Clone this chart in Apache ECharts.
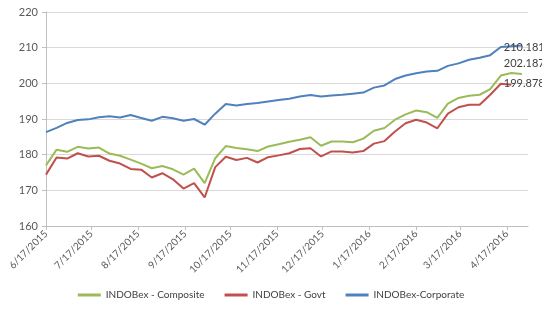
<!DOCTYPE html>
<html>
<head>
<meta charset="utf-8">
<script src="https://cdn.jsdelivr.net/npm/echarts@6/dist/echarts.min.js"></script>
<style>
  html, body { margin: 0; padding: 0; background: #fff; }
  #main { width: 542px; height: 310px; }
</style>
</head>
<body>
<div id="main"></div>
<script>
// weekly dates, 6/17/2015 .. 4/27/2016
var startDate = new Date(2015, 5, 17);
var dates = [];
for (var k = 0; k < 46; k++) {
    dates.push(new Date(startDate.getTime() + k * 7 * 86400000));
}

var composite = [177.0, 181.4, 180.8, 182.2, 181.7, 182.0, 180.3, 179.7, 178.6, 177.5,
    176.2, 176.8, 175.9, 174.4, 176.1, 172.0, 179.0, 182.4, 181.9, 181.5,
    181.0, 182.3, 182.9, 183.6, 184.2, 184.9, 182.5, 183.7, 183.7, 183.5,
    184.5, 186.7, 187.5, 189.8, 191.3, 192.4, 191.9, 190.3, 194.3, 195.9,
    196.5, 196.8, 198.4, 202.187, 202.9, 202.6];
var govt = [174.4, 179.2, 178.9, 180.4, 179.5, 179.7, 178.3, 177.5, 176.0, 175.8,
    173.6, 174.8, 173.1, 170.5, 172.0, 168.0, 176.5, 179.4, 178.5, 179.1,
    177.8, 179.3, 179.8, 180.4, 181.6, 181.8, 179.5, 180.9, 180.9, 180.6,
    181.0, 183.1, 183.8, 186.5, 188.8, 189.8, 189.0, 187.4, 191.5, 193.3,
    194.0, 194.0, 196.8, 199.878, 199.6];
var corporate = [186.3, 187.5, 188.9, 189.7, 189.9, 190.5, 190.8, 190.4, 191.1, 190.3,
    189.5, 190.6, 190.2, 189.5, 190.0, 188.4, 191.5, 194.2, 193.8, 194.2,
    194.5, 194.9, 195.3, 195.7, 196.3, 196.7, 196.3, 196.6, 196.8, 197.1,
    197.4, 198.8, 199.4, 201.2, 202.2, 202.8, 203.3, 203.5, 204.9, 205.6,
    206.6, 207.2, 207.9, 210.1816, 210.4, 210.6];

var tickDates = ['2015-06-17', '2015-07-17', '2015-08-17', '2015-09-17', '2015-10-17', '2015-11-17',
    '2015-12-17', '2016-01-17', '2016-02-17', '2016-03-17', '2016-04-17'];
var yTicks = [160, 170, 180, 190, 200, 210, 220];
var labelIdx = 43;

function toTime(s) {
    var p = s.split('-');
    return new Date(+p[0], +p[1] - 1, +p[2]).getTime();
}
var tickTimes = tickDates.map(toTime);

function buildData(vals, labelOffset) {
    return vals.map(function (v, i) {
        var item = { value: [dates[i].getTime(), v] };
        if (i === labelIdx) {
            item.label = {
                show: true,
                position: 'right',
                distance: 3,
                offset: labelOffset,
                color: '#404040',
                fontSize: 11,
                fontFamily: 'Lato',
                formatter: function (p) { return String(p.value[1]); }
            };
        }
        return item;
    });
}

var myChart = echarts.init(document.getElementById('main'));
var option = {
    animation: false,
    color: ['#9BBB59', '#C0504D', '#4F81BD'],
    textStyle: { fontFamily: 'Lato' },
    grid: {
        left: 46,
        right: 14,
        top: 12,
        bottom: 84,
        containLabel: false
    },
    legend: {
        bottom: 5,
        left: 'center',
        icon: 'rect',
        itemWidth: 23,
        itemHeight: 3,
        itemGap: 20,
        textStyle: { color: '#404040', fontSize: 10, fontFamily: 'Lato' },
        data: ['INDOBex - Composite', 'INDOBex - Govt', 'INDOBex-Corporate']
    },
    xAxis: {
        type: 'value',
        min: toTime('2015-06-17'),
        max: toTime('2016-05-01'),
        axisLine: { lineStyle: { color: '#BFBFBF' } },
        axisTick: {
            show: true,
            customValues: tickTimes,
            length: 4,
            lineStyle: { color: '#BFBFBF' }
        },
        axisLabel: {
            customValues: tickTimes,
            rotate: 45,
            color: '#595959',
            fontSize: 10,
            margin: 6,
            formatter: function (val) {
                var d = new Date(val);
                return (d.getMonth() + 1) + '/' + d.getDate() + '/' + d.getFullYear();
            }
        },
        splitLine: { show: false }
    },
    yAxis: {
        type: 'value',
        min: yTicks[0],
        max: yTicks[yTicks.length - 1],
        interval: 10,
        axisLine: { show: true, lineStyle: { color: '#BFBFBF' } },
        axisTick: { show: true, length: 4, lineStyle: { color: '#BFBFBF' } },
        axisLabel: { color: '#595959', fontSize: 11, margin: 8 },
        splitLine: { lineStyle: { color: '#D9D9D9' } }
    },
    series: [
        {
            name: 'INDOBex - Composite',
            type: 'line',
            showSymbol: true,
            symbolSize: 0,
            lineStyle: { width: 2 },
            data: buildData(composite, [0, -12])
        },
        {
            name: 'INDOBex - Govt',
            type: 'line',
            showSymbol: true,
            symbolSize: 0,
            lineStyle: { width: 2 },
            data: buildData(govt, [0, 0])
        },
        {
            name: 'INDOBex-Corporate',
            type: 'line',
            showSymbol: true,
            symbolSize: 0,
            lineStyle: { width: 2 },
            data: buildData(corporate, [0, 0])
        }
    ]
};
myChart.setOption(option);
</script>
</body>
</html>
